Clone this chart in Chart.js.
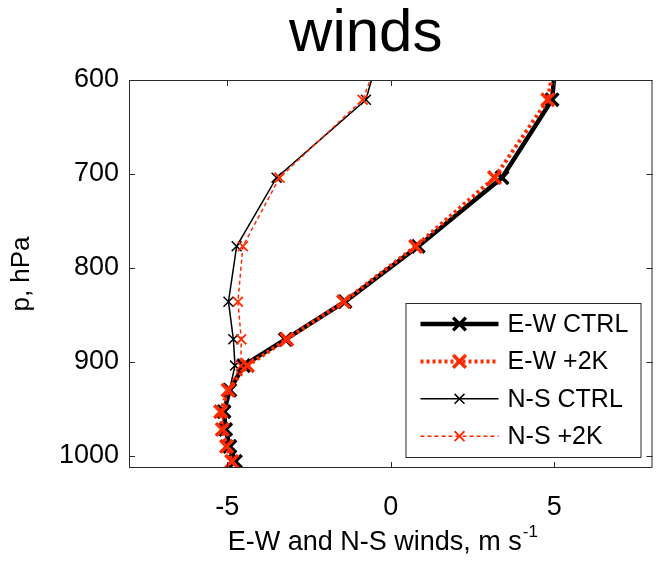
<!DOCTYPE html>
<html><head><meta charset="utf-8">
<script src="https://cdn.jsdelivr.net/npm/chart.js@4.4.0/dist/chart.umd.min.js"></script>
<style>html,body{margin:0;padding:0;background:#fff;overflow:hidden}#wrap{position:relative;width:665px;height:572px}</style>
</head><body><div id="wrap"><canvas id="c" width="665" height="572"></canvas></div>
<script>
// pressure levels (hPa); first level lies above the plotted range and is clipped
const pressure = [540, 621, 704, 777, 836, 876, 904, 930, 953, 972, 990, 1006];
const ewCtrl = [5.15, 4.93, 3.40, 0.84, -1.40, -3.22, -4.50, -4.92, -5.10, -5.05, -4.92, -4.75];
const ewWarm = [5.20, 4.80, 3.17, 0.76, -1.44, -3.18, -4.38, -4.97, -5.20, -5.15, -5.02, -4.86];
const nsCtrl = [-0.10, -0.76, -3.49, -4.71, -4.96, -4.81, -4.76, -4.93, -5.05, -5.00, -4.88, -4.78];
const nsWarm = [0.05, -0.86, -3.40, -4.52, -4.67, -4.57, -4.58, -4.98, -5.15, -5.12, -5.00, -4.85];
const seriesNames = ['E-W CTRL', 'E-W +2K', 'N-S CTRL', 'N-S +2K'];
const xTicks = [-5, 0, 5];
const yTicks = [600, 700, 800, 900, 1000];
const titleText = 'winds';
const xTitleMain = 'E-W and N-S winds, m s';
const xTitleSup = '-1';
const yTitleText = 'p, hPa';

const FONT = '"Liberation Sans", Arial, Helvetica, sans-serif';
const RED = '#ff2a00';

function pts(vals) { return vals.map((v, i) => ({ x: v, y: pressure[i] })); }

const datasets = [
  { label: seriesNames[0], data: pts(ewCtrl), borderColor: '#000', backgroundColor: '#000', borderWidth: 4.5,
    pointStyle: 'crossRot', pointRadius: 9, pointBorderWidth: 3.5, order: 3, _dash: [] },
  { label: seriesNames[1], data: pts(ewWarm), borderColor: RED, backgroundColor: RED, borderWidth: 4, borderDash: [3, 3],
    pointStyle: 'crossRot', pointRadius: 9, pointBorderWidth: 3.5, order: 1, _dash: [3, 3] },
  { label: seriesNames[2], data: pts(nsCtrl), borderColor: '#000', backgroundColor: '#000', borderWidth: 1.5,
    pointStyle: 'crossRot', pointRadius: 7, pointBorderWidth: 1.5, order: 2, _dash: [] },
  { label: seriesNames[3], data: pts(nsWarm), borderColor: RED, backgroundColor: RED, borderWidth: 1.5, borderDash: [4, 3],
    pointStyle: 'crossRot', pointRadius: 7, pointBorderWidth: 1.8, order: 0, _dash: [4, 3] }
];
datasets.forEach(d => { d.showLine = true; d.clip = 0; d.tension = 0; d.pointHoverRadius = d.pointRadius; });

function drawX(ctx, x, y, r, lw, color) {
  const h = r * Math.SQRT1_2;
  ctx.save();
  ctx.setLineDash([]);
  ctx.strokeStyle = color; ctx.lineWidth = lw;
  ctx.beginPath();
  ctx.moveTo(x - h, y - h); ctx.lineTo(x + h, y + h);
  ctx.moveTo(x + h, y - h); ctx.lineTo(x - h, y + h);
  ctx.stroke();
  ctx.restore();
}

const decor = {
  id: 'decor',
  afterDraw(chart) {
    const ctx = chart.ctx;
    const { left, top, right, bottom } = chart.chartArea;
    const xs = chart.scales.x, ys = chart.scales.y;
    ctx.save();
    // frame
    ctx.strokeStyle = '#2a2a2a'; ctx.lineWidth = 1;
    ctx.strokeRect(left + 0.5, top + 0.5, right - left - 1, bottom - top - 1);
    // inner ticks
    const tl = 6;
    ctx.beginPath();
    xTicks.forEach(v => {
      const px = Math.round(xs.getPixelForValue(v)) + 0.5;
      ctx.moveTo(px, bottom); ctx.lineTo(px, bottom - tl);
      ctx.moveTo(px, top); ctx.lineTo(px, top + tl);
    });
    yTicks.forEach(v => {
      const py = Math.round(ys.getPixelForValue(v)) + 0.5;
      ctx.moveTo(left, py); ctx.lineTo(left + tl, py);
      ctx.moveTo(right, py); ctx.lineTo(right - tl, py);
    });
    ctx.stroke();
    // title
    ctx.fillStyle = '#000';
    ctx.font = '60px ' + FONT;
    ctx.textAlign = 'center'; ctx.textBaseline = 'alphabetic';
    ctx.fillText(titleText, (left + right) / 2 - 25, 51);
    // x title with superscript
    ctx.font = '27px ' + FONT;
    const w1 = ctx.measureText(xTitleMain).width;
    ctx.font = '17px ' + FONT;
    const w2 = ctx.measureText(xTitleSup).width;
    const cx = (left + right) / 2 - 8;
    const x0 = cx - (w1 + w2 + 1) / 2;
    ctx.textAlign = 'left';
    ctx.font = '27px ' + FONT;
    ctx.fillText(xTitleMain, x0, 550);
    ctx.font = '17px ' + FONT;
    ctx.fillText(xTitleSup, x0 + w1 + 1, 537);
    // y title
    ctx.save();
    ctx.translate(29, (top + bottom) / 2);
    ctx.rotate(-Math.PI / 2);
    ctx.font = '26px ' + FONT;
    ctx.textAlign = 'center'; ctx.textBaseline = 'alphabetic';
    ctx.fillText(yTitleText, 0, 0);
    ctx.restore();
    // legend
    const bx = right - 247, by = bottom - 165, bw = 235, bh = 154;
    ctx.fillStyle = '#fff';
    ctx.fillRect(bx, by, bw, bh);
    ctx.strokeStyle = '#2a2a2a'; ctx.lineWidth = 1;
    ctx.strokeRect(bx + 0.5, by + 0.5, bw, bh);
    chart.data.datasets.forEach((d, i) => {
      const ey = by + 21 + i * 37.4;
      const lx0 = bx + 15, lx1 = bx + 93;
      ctx.save();
      ctx.strokeStyle = d.borderColor; ctx.lineWidth = d.borderWidth;
      ctx.setLineDash(d._dash);
      ctx.beginPath(); ctx.moveTo(lx0, ey); ctx.lineTo(lx1, ey); ctx.stroke();
      ctx.restore();
      drawX(ctx, (lx0 + lx1) / 2, ey, d.pointRadius, d.pointBorderWidth, d.borderColor);
      ctx.fillStyle = '#000';
      ctx.font = '25px ' + FONT;
      ctx.textAlign = 'left'; ctx.textBaseline = 'middle';
      ctx.fillText(d.label, bx + 102, ey + 1);
    });
    ctx.restore();
  }
};

new Chart(document.getElementById('c'), {
  type: 'scatter',
  data: { datasets },
  options: {
    responsive: false, animation: false, devicePixelRatio: 1,
    layout: { padding: { top: 80, right: 1, left: 0, bottom: 0 } },
    plugins: { legend: { display: false }, title: { display: false }, tooltip: { enabled: false } },
    events: [],
    scales: {
      x: {
        type: 'linear', position: 'bottom', min: -8, max: 8,
        grid: { display: false, drawTicks: false }, border: { display: false },
        ticks: { color: '#000', font: { family: FONT, size: 27 }, padding: 23, callback: v => String(v) },
        afterBuildTicks: s => { s.ticks = xTicks.map(v => ({ value: v })); },
        afterFit: s => { s.height = 104; }
      },
      y: {
        type: 'linear', position: 'left', reverse: true, min: 600, max: 1013,
        grid: { display: false, drawTicks: false }, border: { display: false },
        ticks: { color: '#000', font: { family: FONT, size: 27 }, padding: 10, callback: v => String(v) },
        afterBuildTicks: s => { s.ticks = yTicks.map(v => ({ value: v })); },
        afterFit: s => { s.width = 129; }
      }
    }
  },
  plugins: [decor]
});
</script></body></html>
